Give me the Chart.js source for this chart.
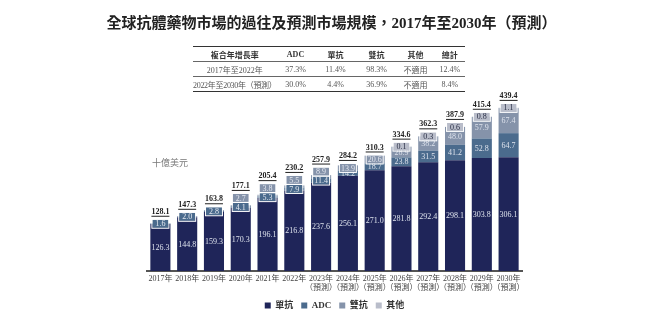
<!DOCTYPE html>
<html lang="zh-Hant">
<head>
  <meta charset="UTF-8">
  <title>全球抗體藥物市場規模</title>
  <script src="https://cdn.jsdelivr.net/npm/chart.js"></script>
  <style>
    body {
      margin: 0;
      padding: 0;
      background: #fff;
      font-family: "Liberation Serif", "Noto Sans CJK TC", serif;
    }

    .page {
      position: relative;
      width: 663px;
      height: 334px;
      overflow: hidden;
    }

    #chart {
      position: absolute;
      left: 0;
      top: 0;
    }

    h2 {
      position: absolute;
      left: 0;
      top: 11px;
      width: 663px;
      margin: 0;
      text-align: center;
      font-size: 15px;
      font-weight: bold;
      color: #222;
    }

    table {
      position: absolute;
      left: 193px;
      top: 46px;
      width: 272px;
      border-collapse: collapse;
      font-size: 8px;
      color: #555;
      border-top: 1.5px solid #333;
      border-bottom: 1.5px solid #333;
    }

    td, th {
      height: 14px;
      padding: 0;
      text-align: center;
      white-space: nowrap;
    }

    th { font-weight: bold; color: #333; }
    tr + tr td { border-top: 1px solid #666; }
    td.first-col { text-align: left; letter-spacing: -0.3px; }

    .unit {
      position: absolute;
      left: 152px;
      top: 156px;
      font-size: 9px;
      color: #777;
    }
  </style>
</head>
<body>
  <div class="page">
    <canvas id="chart" width="663" height="334"></canvas>
    <h2>全球抗體藥物市場的過往及預測市場規模，2017年至2030年（預測）</h2>
    <table>
      <tr>
        <th style="width:83px">複合年增長率</th>
        <th style="width:38px">ADC</th>
        <th style="width:42px">單抗</th>
        <th style="width:40px">雙抗</th>
        <th style="width:38px">其他</th>
        <th>總計</th>
      </tr>
      <tr>
        <td>2017年至2022年</td>
        <td>37.3%</td><td>11.4%</td><td>98.3%</td><td>不適用</td><td>12.4%</td>
      </tr>
      <tr>
        <td class="first-col">2022年至2030年（預測）</td>
        <td>30.0%</td><td>4.4%</td><td>36.9%</td><td>不適用</td><td>8.4%</td>
      </tr>
    </table>
    <div class="unit">十億美元</div>
  </div>

  <script>
    // Market size by antibody type, billions of USD
    const years = ['2017', '2018', '2019', '2020', '2021', '2022', '2023', '2024', '2025', '2026', '2027', '2028', '2029', '2030'];
    const firstForecast = 6; // 2023 onward are forecasts

    const mab = [126.3, 144.8, 159.3, 170.3, 196.1, 216.8, 237.6, 256.1, 271.0, 281.8, 292.4, 298.1, 303.8, 306.1];
    const adc = [1.6, 2.0, 2.8, 4.1, 5.3, 7.9, 11.4, 14.2, 18.7, 23.8, 31.5, 41.2, 52.8, 64.7];
    const bispecific = [0.2, 0.5, 1.7, 2.7, 3.8, 5.5, 8.9, 13.9, 20.6, 28.9, 38.2, 48.0, 57.9, 67.4];
    const others = [0, 0, 0, 0, 0, 0, 0, 0, 0, 0.1, 0.3, 0.6, 0.8, 1.1];
    const totals = [128.1, 147.3, 163.8, 177.1, 205.4, 230.2, 257.9, 284.2, 310.3, 334.6, 362.3, 387.9, 415.4, 439.4];

    // bispecific values for 2017-2019 carry no printed label
    const bispecificLabelled = [false, false, false, true, true, true, true, true, true, true, true, true, true, true];

    const seriesNames = ['單抗', 'ADC', '雙抗', '其他'];
    const seriesColors = ['#1f2559', '#4b6b8d', '#8593aa', '#b9bdca'];

    const xLabels = years.map((y, i) => i >= firstForecast ? [y + '年', '（預測）'] : y + '年');
    const FONT = '"Liberation Serif", "Noto Sans CJK TC", serif';

    const segmentLabels = {
      id: 'segmentLabels',
      afterDatasetsDraw(chart) {
        const ctx = chart.ctx;
        ctx.save();
        ctx.textAlign = 'center';
        ctx.textBaseline = 'middle';
        for (let i = 0; i < years.length; i++) {
          // topmost non-empty series of this stack
          let topSeries = 0;
          chart.data.datasets.forEach((ds, d) => { if (ds.data[i]) topSeries = d; });

          let boxTop = null;
          let stackTop = Infinity;
          chart.data.datasets.forEach((ds, d) => {
            const v = ds.data[i];
            if (!v) return;
            const bar = chart.getDatasetMeta(d).data[i];
            stackTop = Math.min(stackTop, bar.y);
            if (d === 2 && !bispecificLabelled[i]) return;
            const h = bar.base - bar.y;
            const text = v.toFixed(1);
            ctx.font = '8px ' + FONT;
            const boxed = h < 4.5 || (d === topSeries && d > 0 && h < 9);
            if (!boxed) {
              ctx.fillStyle = '#dde2ec';
              ctx.fillText(text, bar.x, (bar.y + bar.base) / 2 + 0.5);
            } else {
              const bh = 8, bw = 16;
              let cy = (bar.y + bar.base) / 2;
              if (boxTop !== null && cy + bh / 2 > boxTop) cy = boxTop - bh / 2;
              ctx.fillStyle = ds.backgroundColor;
              ctx.fillRect(bar.x - bw / 2, cy - bh / 2, bw, bh);
              ctx.strokeStyle = '#ffffff';
              ctx.lineWidth = 1;
              ctx.strokeRect(bar.x - bw / 2 - 0.5, cy - bh / 2 - 0.5, bw + 1, bh + 1);
              ctx.fillStyle = d === 3 ? '#2a2f45' : '#e4e8f0';
              ctx.fillText(text, bar.x, cy + 0.5);
              boxTop = cy - bh / 2 - 1;
            }
          });
          // total value, bold and underlined above the stack
          const x = chart.getDatasetMeta(0).data[i].x;
          const top = boxTop !== null ? Math.min(boxTop, stackTop) : stackTop;
          const ty = top - 7;
          const label = totals[i].toFixed(1);
          ctx.font = 'bold 8px ' + FONT;
          ctx.fillStyle = '#222';
          ctx.fillText(label, x, ty);
          const w = ctx.measureText(label).width;
          ctx.fillRect(x - w / 2, ty + 4, w, 1);
        }
        ctx.restore();
      }
    };

    const seriesData = [mab, adc, bispecific, others];

    new Chart(document.getElementById('chart').getContext('2d'), {
      type: 'bar',
      data: {
        labels: xLabels,
        datasets: seriesData.map((data, k) => ({
          label: seriesNames[k],
          data: data,
          backgroundColor: seriesColors[k],
          borderWidth: 0,
          categoryPercentage: 1,
          barPercentage: 0.75
        }))
      },
      options: {
        responsive: false,
        animation: false,
        layout: { padding: { left: 147, right: 141, top: 100, bottom: 14 } },
        scales: {
          x: {
            stacked: true,
            grid: { display: false, drawTicks: false },
            border: { color: '#555', width: 2 },
            ticks: {
              color: '#444',
              font: { family: FONT, size: 8, lineHeight: 1.2 },
              padding: 3,
              maxRotation: 0,
              autoSkip: false
            },
            // keep the label band tight so the legend sits close under it
            afterFit(scale) { scale.height = 22; }
          },
          y: {
            stacked: true,
            display: false,
            min: 0,
            max: 460
          }
        },
        plugins: {
          legend: {
            position: 'bottom',
            labels: {
              boxWidth: 6,
              boxHeight: 6,
              padding: 8,
              color: '#333',
              font: { family: FONT, size: 9, weight: 'bold' }
            }
          },
          tooltip: { enabled: false }
        }
      },
      plugins: [segmentLabels]
    });
  </script>
</body>
</html>
